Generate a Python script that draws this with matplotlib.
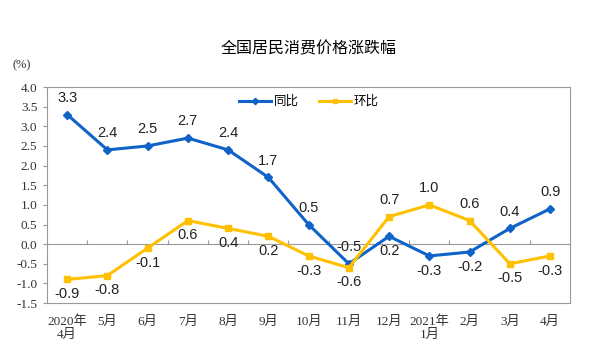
import numpy as np
import matplotlib.pyplot as plt

plt.rcParams['font.family'] = ['Liberation Serif', 'Noto Sans CJK SC']

months = ['2020年\n4月', '5月', '6月', '7月', '8月', '9月', '10月', '11月',
          '12月', '2021年\n1月', '2月', '3月', '4月']
yoy = [3.3, 2.4, 2.5, 2.7, 2.4, 1.7, 0.5, -0.5, 0.2, -0.3, -0.2, 0.4, 0.9]
mom = [-0.9, -0.8, -0.1, 0.6, 0.4, 0.2, -0.3, -0.6, 0.7, 1.0, 0.6, -0.5, -0.3]
# label above (+1) or below (-1) the point
yoy_pos = [1, 1, 1, 1, 1, 1, 1, 1, -1, -1, -1, 1, 1]
mom_pos = [-1, -1, -1, -1, -1, -1, -1, -1, 1, 1, 1, -1, -1]

blue = '#0F63C8'
yellow = '#FFC000'

x = np.arange(len(months))
fig = plt.figure(figsize=(6.07, 3.44), dpi=100)
ax = fig.add_axes([0.0774, 0.119, 0.862, 0.628])

ax.plot(x, yoy, color=blue, lw=2.2, marker='D', ms=4, label='同比')
ax.plot(x, mom, color=yellow, lw=2.2, marker='s', ms=4, label='环比')

lab_font = dict(family=['Liberation Sans', 'Noto Sans CJK SC'], fontsize=10.5,
                color='#222222', ha='center', va='center')
for series, pos in ((yoy, yoy_pos), (mom, mom_pos)):
    for xi, v, p in zip(x, series, pos):
        dy = 12 if p > 0 else -10.5
        ax.annotate(f'{v:.1f}', (xi, v), xytext=(0, dy), textcoords='offset points',
                    **lab_font)

ax.set_xlim(-0.5, len(months) - 0.5)
ax.set_ylim(-1.5, 4.0)
yt = np.arange(-1.5, 4.01, 0.5)
ax.set_yticks(yt)
ax.set_yticklabels([f'{t:.1f}' for t in yt], fontsize=9.5)
ax.set_xticks(x)
ax.set_xticklabels(months, fontsize=9.5, color='#333333', linespacing=1.05)
ax.tick_params(axis='x', length=0, pad=9)
ax.tick_params(axis='y', length=3, color='#999999', labelcolor='#333333', pad=4)
for s in ax.spines.values():
    s.set_color('#999999')

# zero line with category ticks
zero_ax = ax.secondary_xaxis(1.5 / 5.5)
zero_ax.set_xticks(np.arange(0.5, len(months) - 1, 1.0))
zero_ax.set_xticklabels([])
zero_ax.tick_params(direction='in', length=3, color='#999999')
zero_ax.spines['bottom'].set_color('#999999')

ax.legend(loc='upper center', bbox_to_anchor=(0.5, 1.015), ncol=2, frameon=False,
          prop={'family': ['Noto Sans CJK SC'], 'size': 9}, handlelength=2.6,
          handletextpad=0.2, columnspacing=1.6, markerscale=0.8)

fig.text(0.508, 0.858, '全国居民消费价格涨跌幅', ha='center', va='center',
         fontsize=11.5, family=['Noto Sans CJK SC'])
fig.text(0.036, 0.81, '(%)', ha='center', va='center', fontsize=9, color='#333333')

fig.savefig('out.png', dpi=100)
